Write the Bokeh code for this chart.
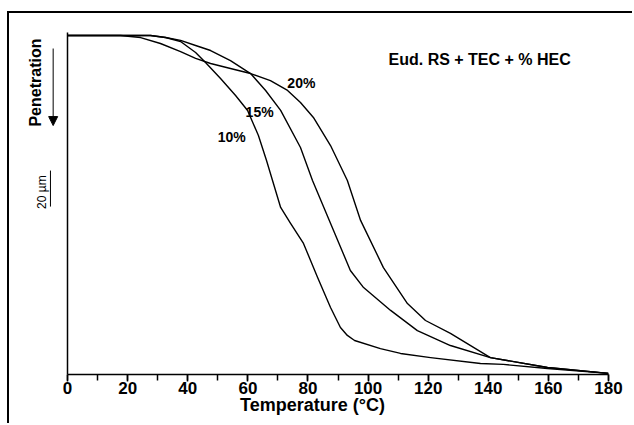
import math
from bokeh.plotting import figure
from bokeh.models import Range1d, LinearAxis, SingleIntervalTicker, FixedTicker, Arrow, NormalHead
from bokeh.core.properties import value
from bokeh.embed import file_html
from bokeh.resources import INLINE

# ---- data: temperature in degC, penetration in um ----
temp_10 = [0, 27.6, 32.6, 37.6, 42.6, 45.9, 50.9, 55.9, 59.9, 63.5, 66.2, 68.2, 70.9, 74.2, 78.5,
           83.2, 87.5, 90.8, 93.1, 95.5, 104.1, 110.8, 120.8, 137.4, 145.0, 159.7, 180]
pen_10 = [1.7, 1.7, 2.8, 5.0, 11.1, 16.7, 25.6, 35.0, 43.3, 57.2, 71.1, 82.2, 97.2, 106.1, 117.2,
          136.1, 152.8, 163.9, 168.3, 171.1, 175.6, 178.3, 180.6, 183.9, 184.4, 186.7, 189.4]

temp_15 = [0, 27.6, 32.6, 37.6, 42.6, 47.6, 54.2, 60.9, 65.9, 70.9, 77.5, 81.5, 88.5, 94.1, 98.5,
           107.5, 116.4, 127.4, 140.7, 159.7, 180]
pen_15 = [1.7, 1.7, 2.8, 4.4, 7.2, 10.0, 15.6, 22.8, 32.2, 43.3, 63.9, 82.2, 110.0, 132.2, 141.7,
          154.4, 165.6, 173.9, 180.6, 186.1, 189.4]

temp_20 = [0, 17.6, 24.3, 30.9, 37.6, 42.6, 47.6, 54.2, 60.9, 67.5, 73.2, 77.5, 81.8, 87.5, 93.1,
           97.5, 105.1, 113.1, 119.1, 127.4, 140.7, 159.7, 180]
pen_20 = [1.7, 1.7, 2.8, 6.1, 10.6, 14.4, 17.2, 20.0, 22.8, 26.7, 32.2, 38.9, 47.2, 62.8, 82.2,
          104.4, 130.6, 150.6, 160.0, 167.2, 180.6, 186.1, 189.4]

series_labels = ["10%", "15%", "20%"]
title_text = "Eud. RS + TEC + % HEC"
x_label = "Temperature (\u00b0C)"
y_label = "Penetration"
scale_label = "20 \u00b5m"
scale_um = 20

FONT = value("Liberation Sans")

p = figure(width=625, height=412,
           x_range=Range1d(-17, 180), y_range=Range1d(190, -6.67),
           output_backend="svg", toolbar_location=None, y_axis_location=None,
           min_border_left=7, min_border_right=26, min_border_top=7, min_border_bottom=51,
           styles={"border-top": "2px solid black", "border-left": "2px solid black",
                   "margin-left": "7px", "margin-top": "11px"})
p.outline_line_color = None
p.xgrid.visible = False
p.ygrid.visible = False
p.background_fill_color = "white"
p.border_fill_color = "white"

# x axis
xa = p.xaxis[0]
xa.ticker = SingleIntervalTicker(interval=20, num_minor_ticks=2)
xa.bounds = (0, 180)
xa.axis_line_width = 1.5
xa.major_tick_line_width = 1.5
xa.minor_tick_line_width = 1.5
xa.major_tick_in = 0
xa.major_tick_out = 7
xa.minor_tick_in = 0
xa.minor_tick_out = 6
xa.major_label_text_font = "Liberation Sans"
xa.major_label_text_font_style = "bold"
xa.major_label_text_font_size = "17px"
xa.major_label_text_color = "black"
xa.major_label_standoff = 0
xa.axis_label = x_label
xa.axis_label_text_font = "Liberation Sans"
xa.axis_label_text_font_style = "bold"
xa.axis_label_text_font_size = "18px"
xa.axis_label_text_color = "black"
xa.axis_label_standoff = -2

# y axis: plain line at T = 0
ya = LinearAxis(fixed_location=0, ticker=FixedTicker(ticks=[]), bounds=(0, 190),
                axis_line_width=1.5, major_label_text_font_size="0px")
p.add_layout(ya, "left")

# curves
for t, v in [(temp_10, pen_10), (temp_15, pen_15), (temp_20, pen_20)]:
    p.line(t, v, line_color="black", line_width=1.4, line_join="round")

# curve labels
p.text(x=[54.6, 63.9, 77.8], y=[57.8, 43.9, 27.8], text=series_labels,
       text_font=FONT, text_font_style="bold", text_font_size="14px",
       text_align="center", text_baseline="middle", text_color="black")

p.text(x=[106.8], y=[15], text=[title_text], text_font=FONT, text_font_style="bold",
       text_font_size="16px", text_align="left", text_baseline="middle", text_color="black")

# penetration label + arrow
p.text(x=[-10.6], y=[27.8], text=[y_label], angle=math.pi / 2, text_font=FONT,
       text_font_style="bold", text_font_size="16px", text_align="center",
       text_baseline="middle", text_color="black")
p.add_layout(Arrow(x_start=-4.8, y_start=8.9, x_end=-4.8, y_end=51.7, line_width=1,
                   line_color="black",
                   end=NormalHead(size=9, fill_color="black", line_color="black")))

# scale bar
p.segment(x0=[-5.7], y0=[76.7], x1=[-5.7], y1=[76.7 + scale_um], line_color="black", line_width=1)
p.text(x=[-8.6], y=[76.7 + scale_um / 2 + 2], text=[scale_label], angle=math.pi / 2, text_font=FONT,
       text_font_size="12px", text_align="center", text_baseline="middle", text_color="black")

open("out.html", "w").write(file_html(p, INLINE))
